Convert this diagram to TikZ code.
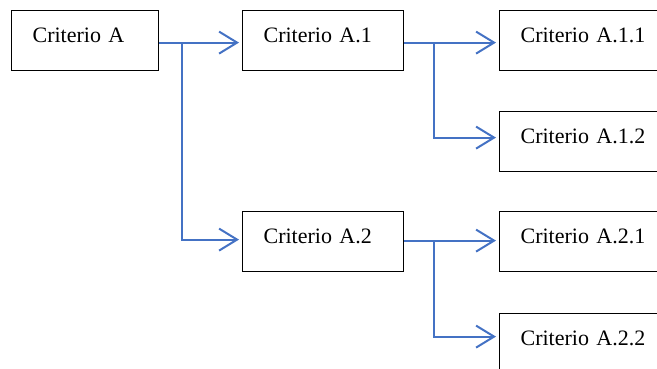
\documentclass[tikz,border=0pt]{standalone}
\usepackage{fontspec}
\setmainfont{Liberation Serif}
\usetikzlibrary{arrows.meta}
\definecolor{linkblue}{RGB}{68,114,196}
\tikzset{
  crit/.style={draw=black, line width=1.2pt, rectangle, anchor=north west,
    minimum height=60pt, inner xsep=21pt, inner ysep=0pt, align=left,
    text height=15pt, text depth=11pt,
    font=\fontsize{22}{26}\selectfont},
  conn/.style={draw=linkblue, line width=2pt,
    -{Straight Barb[length=18pt,width=22pt,line width=2pt]}},
  trunk/.style={draw=linkblue, line width=2pt}
}
\begin{document}
\begin{tikzpicture}[x=1pt,y=-1pt]
\useasboundingbox (0,0) rectangle (657,368);

% criteria boxes (the right column runs past the page edge)
\node[crit, text width=105pt] (A)   at (11,10)  {Criterio A};
\node[crit, text width=119pt] (A1)  at (242,10) {Criterio A.1};
\node[crit, text width=119pt] (A2)  at (242,211) {Criterio A.2};
\node[crit, text width=140pt] (A11) at (499,10)  {Criterio A.1.1};
\node[crit, text width=140pt] (A12) at (499,111) {Criterio A.1.2};
\node[crit, text width=140pt] (A21) at (499,211) {Criterio A.2.1};
\node[crit, text width=140pt] (A22) at (499,313) {Criterio A.2.2};

% branching points
\coordinate (t1) at (182,42);
\coordinate (t2) at (434,42);
\coordinate (t3) at (434,240);

% level one
\draw[conn] ([yshift=-2pt]A.east) -- ([yshift=-2pt,xshift=-3pt]A1.west);
\draw[conn] (t1) |- ([yshift=2pt,xshift=-3pt]A2.west);

% level two, upper branch
\draw[conn] ([yshift=-2pt]A1.east) -- ([yshift=-2pt,xshift=-3pt]A11.west);
\draw[conn] (t2) |- ([yshift=4pt,xshift=-3pt]A12.west);

% level two, lower branch
\draw[conn] ([yshift=1pt]A2.east) -- ([yshift=1pt,xshift=-3pt]A21.west);
\draw[conn] (t3) |- ([yshift=7pt,xshift=-3pt]A22.west);
\end{tikzpicture}
\end{document}
